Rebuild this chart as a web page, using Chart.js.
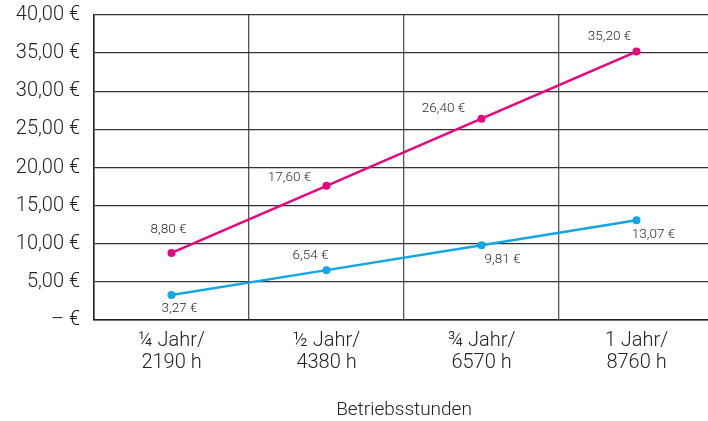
<!DOCTYPE html>
<html>
<head>
<meta charset="utf-8">
<script src="https://cdn.jsdelivr.net/npm/chart.js@4/dist/chart.umd.min.js"></script>
<style>
  html, body { margin: 0; padding: 0; background: #fff; overflow: hidden; }
  #wrap { width: 708px; height: 421px; overflow: hidden; position: relative; }
  canvas { display: block; }
</style>
</head>
<body>
<div id="wrap"><canvas id="c" width="718" height="421" style="width:718px;height:421px"></canvas></div>
<script>
// ---- Data ----
const categories = [["¼ Jahr/", "2190 h"], ["½ Jahr/", "4380 h"], ["¾ Jahr/", "6570 h"], ["1 Jahr/", "8760 h"]];
const seriesPink = [8.80, 17.60, 26.40, 35.20];
const seriesBlue = [3.27, 6.54, 9.81, 13.07];
const yTicks = [0, 5, 10, 15, 20, 25, 30, 35, 40];
const xAxisTitle = "Betriebsstunden";

const fmt = v => v.toFixed(2).replace('.', ',') + ' €';
const FONT = 'Roboto, "Liberation Sans", Arial, sans-serif';

// label offsets (style only)
const labelOffsets = [
  [[-3, -23], [-37, -8], [-38, -10], [-27, -15]],
  [[8, 14], [-16, -15], [21, 14], [17, 14]]
];

const valueLabels = {
  id: 'valueLabels',
  afterDatasetsDraw(chart) {
    const ctx = chart.ctx;
    ctx.save();
    ctx.font = '300 13.5px ' + FONT;
    ctx.fillStyle = '#2a2a2a';
    ctx.textAlign = 'center';
    ctx.textBaseline = 'middle';
    chart.data.datasets.forEach((ds, di) => {
      const meta = chart.getDatasetMeta(di);
      meta.data.forEach((pt, i) => {
        const [dx, dy] = labelOffsets[di][i];
        ctx.fillText(fmt(ds.data[i]), pt.x + dx, pt.y + dy);
      });
    });
    ctx.restore();
  }
};

new Chart(document.getElementById('c'), {
  type: 'line',
  data: {
    labels: categories,
    datasets: [
      {
        data: seriesPink,
        borderColor: '#e6067e',
        backgroundColor: '#e6067e',
        borderWidth: 2.5,
        pointRadius: 4,
        pointHoverRadius: 4,
        pointBorderWidth: 0,
        tension: 0
      },
      {
        data: seriesBlue,
        borderColor: '#12a6e2',
        backgroundColor: '#12a6e2',
        borderWidth: 2.5,
        pointRadius: 4,
        pointHoverRadius: 4,
        pointBorderWidth: 0,
        tension: 0
      }
    ]
  },
  options: {
    responsive: false,
    animation: false,
    devicePixelRatio: 1,
    layout: { padding: { top: 15, left: 0, right: 0, bottom: 0 } },
    plugins: { legend: { display: false }, tooltip: { enabled: false } },
    scales: {
      x: {
        offset: true,
        grid: { offset: true, color: '#555', lineWidth: 1.3, drawTicks: false },
        border: { color: '#222', width: 1.5 },
        ticks: {
          color: '#222',
          padding: 10,
          maxRotation: 0,
          font: { family: FONT, size: 20, weight: 300, lineHeight: 1.1 }
        },
        title: {
          display: true,
          text: xAxisTitle,
          color: '#222',
          padding: { top: 0, bottom: 0 },
          font: { family: FONT, size: 19, weight: 300, lineHeight: 1.1 }
        },
        afterFit(scale) { scale.height = 101; scale.paddingLeft = 0; scale.paddingRight = 0; }
      },
      y: {
        min: 0,
        max: 40,
        afterBuildTicks(scale) { scale.ticks = yTicks.map(v => ({ value: v })); },
        grid: { color: '#333', lineWidth: 1.3, drawTicks: false },
        border: { color: '#222', width: 1.5 },
        ticks: {
          color: '#222',
          padding: 14,
          font: { family: FONT, size: 20, weight: 300 },
          callback: v => v === 0 ? '– €' : fmt(v)
        },
        afterFit(scale) { scale.width = 94; scale.paddingTop = 0; scale.paddingBottom = 0; }
      }
    }
  },
  plugins: [valueLabels]
});
</script>
</body>
</html>
